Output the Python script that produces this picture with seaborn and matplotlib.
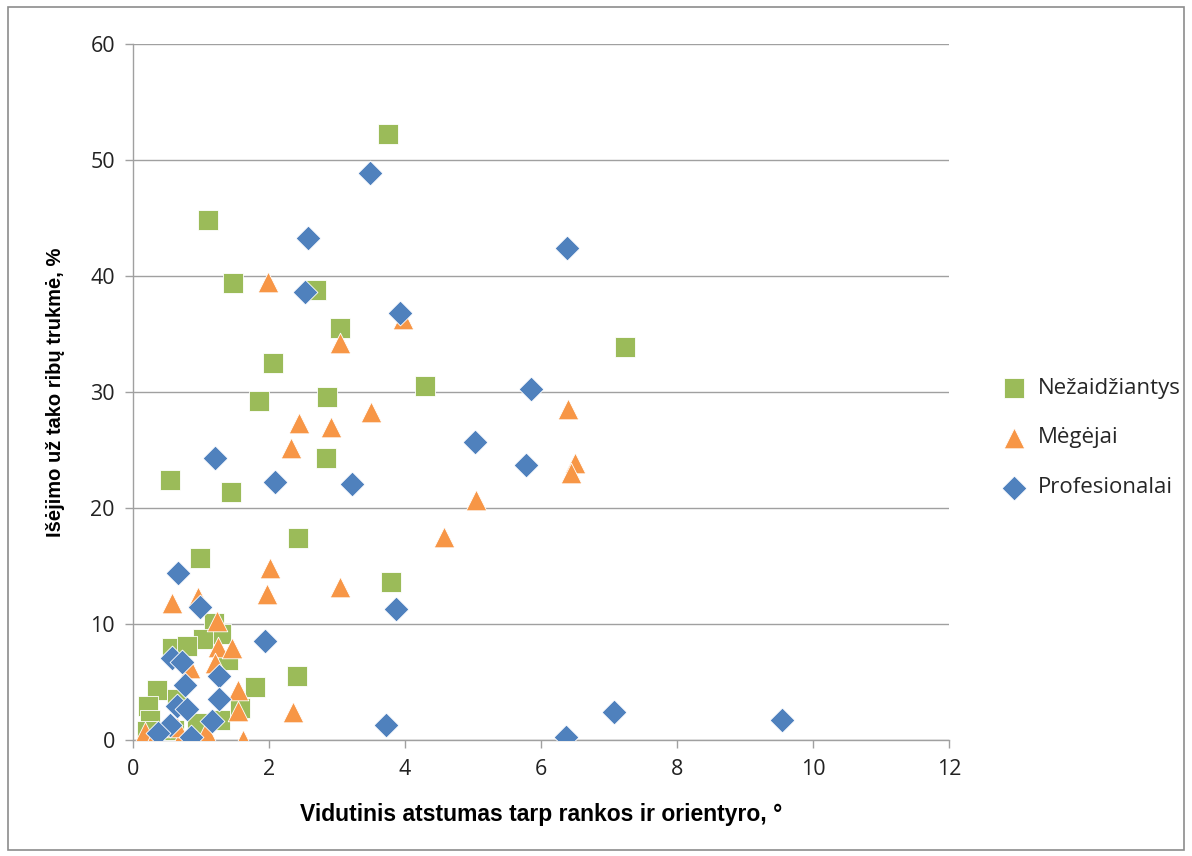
import matplotlib
matplotlib.use("Agg")
import matplotlib.pyplot as plt
import seaborn as sns
import pandas as pd
from matplotlib.patches import Rectangle

# ---- data ----
series_names = ["Nežaidžiantys", "Mėgėjai", "Profesionalai"]

nez_x = [3.75, 1.10, 1.47, 2.69, 3.05, 2.06, 7.24, 4.30, 1.85, 2.85, 2.84, 0.54, 1.44, 2.42, 0.99, 3.79,
         2.41, 1.79, 1.19, 1.30, 1.03, 0.57, 0.79, 1.40, 0.35, 0.22, 0.64, 1.57, 1.28, 0.94, 0.25, 0.20, 0.60]
nez_y = [52.2, 44.8, 39.4, 38.8, 35.5, 32.5, 33.9, 30.5, 29.2, 29.6, 24.3, 22.4, 21.4, 17.4, 15.7, 13.6,
         5.5, 4.6, 10.1, 9.1, 8.7, 7.9, 8.1, 6.9, 4.3, 2.9, 3.5, 2.8, 1.7, 1.5, 1.7, 0.8, 0.9]

meg_x = [1.98, 3.97, 3.05, 2.44, 3.50, 2.91, 2.32, 6.40, 6.50, 6.44, 5.04, 4.57, 2.01, 3.04, 0.58, 0.96,
         1.97, 1.24, 1.25, 1.45, 1.21, 0.84, 1.55, 1.55, 2.35, 0.18, 0.30, 0.69, 1.08, 1.62, 0.64]
meg_y = [39.5, 36.3, 34.2, 27.3, 28.3, 27.0, 25.2, 28.5, 23.9, 23.0, 20.7, 17.5, 14.8, 13.2, 11.8, 12.3,
         12.6, 10.3, 8.0, 7.9, 6.6, 6.2, 4.3, 2.5, 2.4, 0.7, 0.0, 0.0, 0.7, 0.0, 1.1]

pro_x = [3.49, 2.58, 6.38, 2.53, 3.93, 5.85, 5.03, 5.78, 1.21, 2.09, 3.22, 0.66, 0.99, 3.87, 1.94, 0.57,
         0.72, 1.26, 0.76, 1.26, 0.64, 0.79, 1.16, 0.54, 0.37, 0.86, 3.72, 6.37, 7.07, 9.54]
pro_y = [48.9, 43.3, 42.4, 38.6, 36.8, 30.3, 25.7, 23.7, 24.3, 22.2, 22.1, 14.4, 11.5, 11.3, 8.5, 7.1,
         6.7, 5.5, 4.7, 3.5, 2.9, 2.7, 1.6, 1.3, 0.6, 0.3, 1.3, 0.3, 2.4, 1.7]

x_ticks = [0, 2, 4, 6, 8, 10, 12]
y_ticks = [0, 10, 20, 30, 40, 50, 60]
x_label = "Vidutinis atstumas tarp rankos ir orientyro, °"
y_label = "Išėjimo už tako ribų trukmė, %"

colors = {"Nežaidžiantys": "#9BBB59", "Mėgėjai": "#F79646", "Profesionalai": "#4F81BD"}
markers = {"Nežaidžiantys": "s", "Mėgėjai": "^", "Profesionalai": "D"}
sizes = {"Nežaidžiantys": 200, "Mėgėjai": 220, "Profesionalai": 160}

df = pd.concat([
    pd.DataFrame({"x": nez_x, "y": nez_y, "g": series_names[0]}),
    pd.DataFrame({"x": meg_x, "y": meg_y, "g": series_names[1]}),
    pd.DataFrame({"x": pro_x, "y": pro_y, "g": series_names[2]}),
], ignore_index=True)

sns.set_theme(style="white")
plt.rcParams['font.family'] = ['Open Sans', 'DejaVu Sans']

fig = plt.figure(figsize=(11.92, 8.56), dpi=100)
ax = fig.add_axes([133/1192, 1-740/856, (949-133)/1192, (740-44)/856])

for name in series_names:
    sub = df[df["g"] == name]
    sns.scatterplot(data=sub, x="x", y="y", ax=ax, color=colors[name], marker=markers[name],
                    s=sizes[name], edgecolor="white", linewidth=0.6, label=name, zorder=3)

ax.set_xlim(0, 12)
ax.set_ylim(0, 60)
ax.set_xticks(x_ticks)
ax.set_yticks(y_ticks)
ax.yaxis.grid(True, color="#A0A0A0", linewidth=1.0)
ax.xaxis.grid(False)
ax.set_axisbelow(True)
for sp in ["top", "right"]:
    ax.spines[sp].set_visible(False)
for sp in ["left", "bottom"]:
    ax.spines[sp].set_color("#A0A0A0")
    ax.spines[sp].set_linewidth(1.0)
ax.tick_params(axis="both", which="major", direction="out", length=6, width=1,
               color="#A0A0A0", labelsize=15.5, labelcolor="#222222", bottom=True, left=True)
ax.tick_params(axis="x", pad=8)
ax.tick_params(axis="y", pad=7)

lab_font = ['Liberation Sans Narrow', 'Liberation Sans', 'DejaVu Sans']
ax.set_xlabel(x_label, fontsize=16.5, fontweight="bold", family=lab_font, labelpad=16, color="black")
ax.set_ylabel(y_label, fontsize=14.5, fontweight="bold", family=lab_font, labelpad=18, color="black")

ax.get_legend().remove()
handles, labels = ax.get_legend_handles_labels()
fig.legend(handles, labels, loc="center left", bbox_to_anchor=(972/1192, 1-438/856), frameon=False,
           fontsize=16, labelspacing=1.3, handletextpad=0.05, markerscale=1.0)

fig.patches.append(Rectangle((8/1192, 6/856), 1176/1192, 843/856, transform=fig.transFigure,
                             fill=False, edgecolor="#8C8C8C", linewidth=1.2))

fig.savefig("out.png", dpi=100)
